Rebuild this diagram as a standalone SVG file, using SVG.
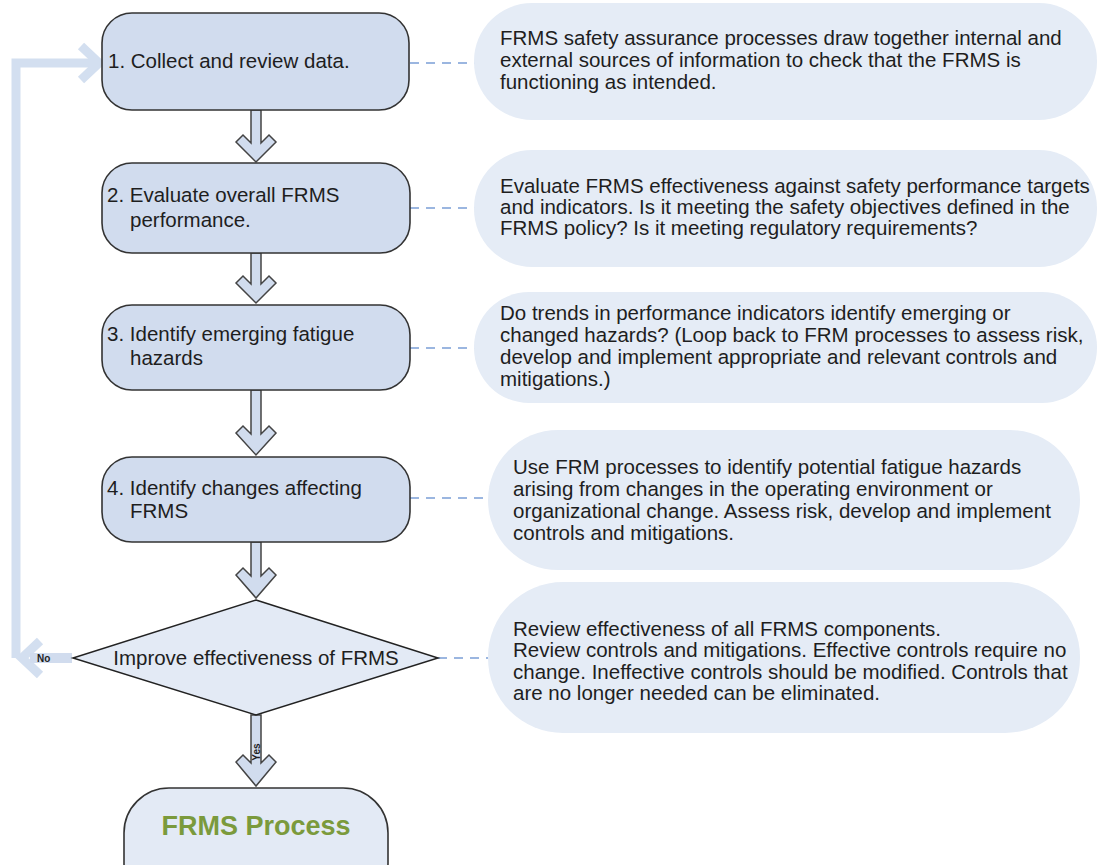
<svg xmlns="http://www.w3.org/2000/svg" width="1097" height="865" viewBox="0 0 1097 865">
<style>
text{font-family:"Liberation Sans",Arial,sans-serif;fill:#1e1e1e}
.box{fill:#d1dcee;stroke:#333;stroke-width:1.6}
.bub{fill:#e5ecf6}
.bt{font-size:20.5px}
.nt{font-size:20.5px}
.dash{stroke:#7b9ed6;stroke-width:1.6;stroke-dasharray:9 7;fill:none}
.arr{fill:#d1dcee;stroke:#444;stroke-width:1.5;stroke-linejoin:miter}
.loop{stroke:#d3dff0;stroke-width:9;fill:none}
</style>
<rect width="1097" height="865" fill="#fff"/>
<g id="connectors">
<path class="dash" d="M410 63H475"/>
<path class="dash" d="M410 208H475"/>
<path class="dash" d="M410 348H475"/>
<path class="dash" d="M410 498H490"/>
<path class="dash" d="M438 658H490"/>
<path class="arr" d="M251 110V143L243 135L236 142L256 162L276 142L269 135L261 143V110Z"/>
<path class="arr" d="M251 253V284L243 276L236 283L256 303L276 283L269 276L261 284V253Z"/>
<path class="arr" d="M251 390V434L243 426L236 433L256 455L276 433L269 426L261 434V390Z"/>
<path class="arr" d="M251 542V576L243 568L236 575L256 598L276 575L269 568L261 576V542Z"/>
<path class="arr" d="M251 715V763L243 755L236 762L256 786L276 762L269 755L261 763V715Z"/>
<path class="loop" d="M16 658V63H98"/>
<path class="loop" d="M81 46L99 63L81 80"/>
<path class="loop" d="M40 641L22 658L40 675"/>
<rect x="30" y="653" width="42" height="10" fill="#d1dcee"/>
<text x="37" y="662" font-size="10" font-weight="bold">No</text>
<text transform="translate(260,752) rotate(-90)" font-size="10" font-weight="bold" text-anchor="middle">Yes</text>
</g>
<g id="n1"><rect class="box" x="102" y="13" width="307" height="97" rx="30"/><text class="nt" x="108" y="68">1. Collect and review data.</text></g>
<g id="n2"><rect class="box" x="102" y="163" width="308" height="90" rx="30"/><text class="nt" x="107" y="202">2. Evaluate overall FRMS</text><text class="nt" x="130" y="227">performance.</text></g>
<g id="n3"><rect class="box" x="102" y="305" width="308" height="85" rx="30"/><text class="nt" x="107" y="341">3. Identify emerging fatigue</text><text class="nt" x="130" y="365">hazards</text></g>
<g id="n4"><rect class="box" x="102" y="457" width="308" height="85" rx="30"/><text class="nt" x="107" y="495">4. Identify changes affecting</text><text class="nt" x="130" y="518">FRMS</text></g>
<g id="d1"><path d="M256 600L438 658L256 715L73 658Z" fill="#e3eaf5" stroke="#222" stroke-width="1.5"/><text class="nt" x="256" y="665" text-anchor="middle">Improve effectiveness of FRMS</text></g>
<g id="end"><rect x="124" y="788" width="264" height="120" rx="45" fill="#e3eaf5" stroke="#333" stroke-width="1.6"/><text x="256" y="835" text-anchor="middle" font-size="27" font-weight="bold" style="fill:#7b9a3c">FRMS Process</text></g>
<g id="b1"><rect class="bub" x="474" y="3" width="623" height="117" rx="58"/><text class="bt" x="500" y="45">FRMS safety assurance processes draw together internal and</text><text class="bt" x="500" y="67">external sources of information to check that the FRMS is</text><text class="bt" x="500" y="89">functioning as intended.</text></g>
<g id="b2"><rect class="bub" x="474" y="150" width="623" height="117" rx="58"/><text class="bt" x="500" y="193">Evaluate FRMS effectiveness against safety performance targets</text><text class="bt" x="500" y="214">and indicators. Is it meeting the safety objectives defined in the</text><text class="bt" x="500" y="235">FRMS policy? Is it meeting regulatory requirements?</text></g>
<g id="b3"><rect class="bub" x="474" y="292" width="623" height="111" rx="55"/><text class="bt" x="500" y="320">Do trends in performance indicators identify emerging or</text><text class="bt" x="500" y="342">changed hazards? (Loop back to FRM processes to assess risk,</text><text class="bt" x="500" y="364">develop and implement appropriate and relevant controls and</text><text class="bt" x="500" y="386">mitigations.)</text></g>
<g id="b4"><rect class="bub" x="488" y="430" width="592" height="140" rx="70"/><text class="bt" x="513" y="474">Use FRM processes to identify potential fatigue hazards</text><text class="bt" x="513" y="496">arising from changes in the operating environment or</text><text class="bt" x="513" y="518">organizational change. Assess risk, develop and implement</text><text class="bt" x="513" y="540">controls and mitigations.</text></g>
<g id="b5"><rect class="bub" x="488" y="582" width="592" height="151" rx="75"/><text class="bt" x="513" y="636">Review effectiveness of all FRMS components.</text><text class="bt" x="513" y="657">Review controls and mitigations. Effective controls require no</text><text class="bt" x="513" y="679">change. Ineffective controls should be modified. Controls that</text><text class="bt" x="513" y="700">are no longer needed can be eliminated.</text></g>
</svg>
